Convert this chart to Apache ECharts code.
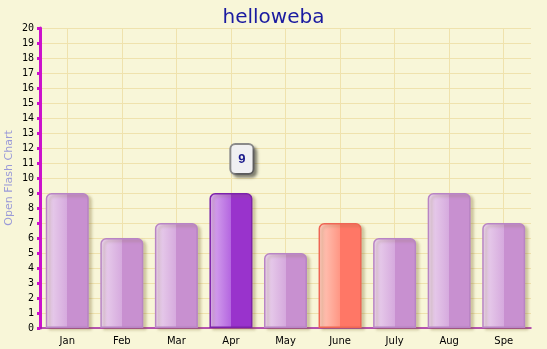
<!DOCTYPE html>
<html>
<head>
<meta charset="utf-8">
<style>html,body{margin:0;padding:0;background:#f8f6d8;}#chart{width:547px;height:349px;}</style>
<script src="https://cdn.jsdelivr.net/npm/echarts@6/dist/echarts.min.js"></script>
</head>
<body>
<div id="chart"></div>
<script>
var months = ['Jan', 'Feb', 'Mar', 'Apr', 'May', 'June', 'July', 'Aug', 'Spe'];
var values = [9, 6, 7, 9, 5, 7, 6, 9, 7];
var tipIndex = 3;   // bar with the "9" box above it
var redIndex = 5;

function grad(light, mid, solid) {
    return new echarts.graphic.LinearGradient(0, 0, 1, 0, [
        {offset: 0, color: light},
        {offset: 0.5, color: mid},
        {offset: 0.5, color: solid},
        {offset: 1, color: solid}
    ]);
}

var barData = values.map(function (v, i) {
    var item = {value: v};
    if (i === tipIndex) {
        item.itemStyle = {color: grad('#dcb0f0', '#b466e0', '#9933cc'), borderColor: '#7c22aa'};
        item.label = {
            show: true, position: 'top', distance: 20, offset: [11, 0],
            color: '#1a1a8c', fontWeight: 'bold', fontSize: 13,
            backgroundColor: '#f0f0f2', borderColor: '#8a8a8a', borderWidth: 2, borderRadius: 4,
            padding: [8, 7, 7, 7], shadowColor: 'rgba(0,0,0,0.35)', shadowOffsetX: 3, shadowOffsetY: 3, shadowBlur: 3
        };
    } else if (i === redIndex) {
        item.itemStyle = {color: grad('#ffcdbf', '#ff9684', '#ff7766'), borderColor: '#ee6655'};
    }
    return item;
});

var chart = echarts.init(document.getElementById('chart'));
var option = {
    backgroundColor: '#f8f6d8',
    animation: false,
    title: {
        text: 'helloweba', left: 'center', top: 3,
        textStyle: {color: '#1a1aa0', fontSize: 20, fontWeight: 'normal', fontFamily: 'DejaVu Sans'}
    },
    grid: {left: 40, right: 16, top: 28, bottom: 21, containLabel: false, outerBoundsMode: 'none'},
    xAxis: {
        type: 'category',
        data: months,
        boundaryGap: true,
        axisLine: {lineStyle: {color: '#a020a8', width: 1.5}},
        axisTick: {alignWithLabel: true, length: 4, lineStyle: {color: '#a020a8'}},
        axisLabel: {color: '#000', fontSize: 10, fontFamily: 'DejaVu Sans', margin: 8},
        splitLine: {show: false}
    },
    yAxis: {
        type: 'value', min: 0, max: 20, interval: 1,
        name: 'Open Flash Chart', nameLocation: 'middle', nameGap: 25, nameRotate: 90,
        nameMoveOverlap: false,
        nameTextStyle: {color: '#9a9ad8', fontSize: 11, fontFamily: 'DejaVu Sans'},
        axisLine: {show: true, lineStyle: {color: '#cc11cc', width: 3}},
        axisTick: {show: true, length: 3, lineStyle: {color: '#cc11cc', width: 3}},
        axisLabel: {color: '#000', fontSize: 10, fontFamily: 'DejaVu Sans Mono', margin: 6},
        splitLine: {lineStyle: {color: '#efe2ad'}}
    },
    series: [{
        // vertical grid lines through the category centres
        type: 'line', data: [], silent: true,
        markLine: {
            silent: true, symbol: 'none', label: {show: false},
            lineStyle: {color: '#efe2ad', type: 'solid', width: 1},
            data: months.map(function (m) { return {xAxis: m}; })
        }
    }, {
        type: 'bar',
        data: barData,
        barWidth: 43,
        zlevel: 1,
        itemStyle: {
            color: grad('#ecd6ee', '#d6aade', '#c890d0'),
            borderColor: '#b884c4', borderWidth: 1.5,
            borderRadius: [5, 5, 0, 0],
            shadowColor: 'rgba(120,100,40,0.3)', shadowOffsetX: 3, shadowOffsetY: 2, shadowBlur: 3
        }
    }]
};
chart.setOption(option);
</script>
</body>
</html>
